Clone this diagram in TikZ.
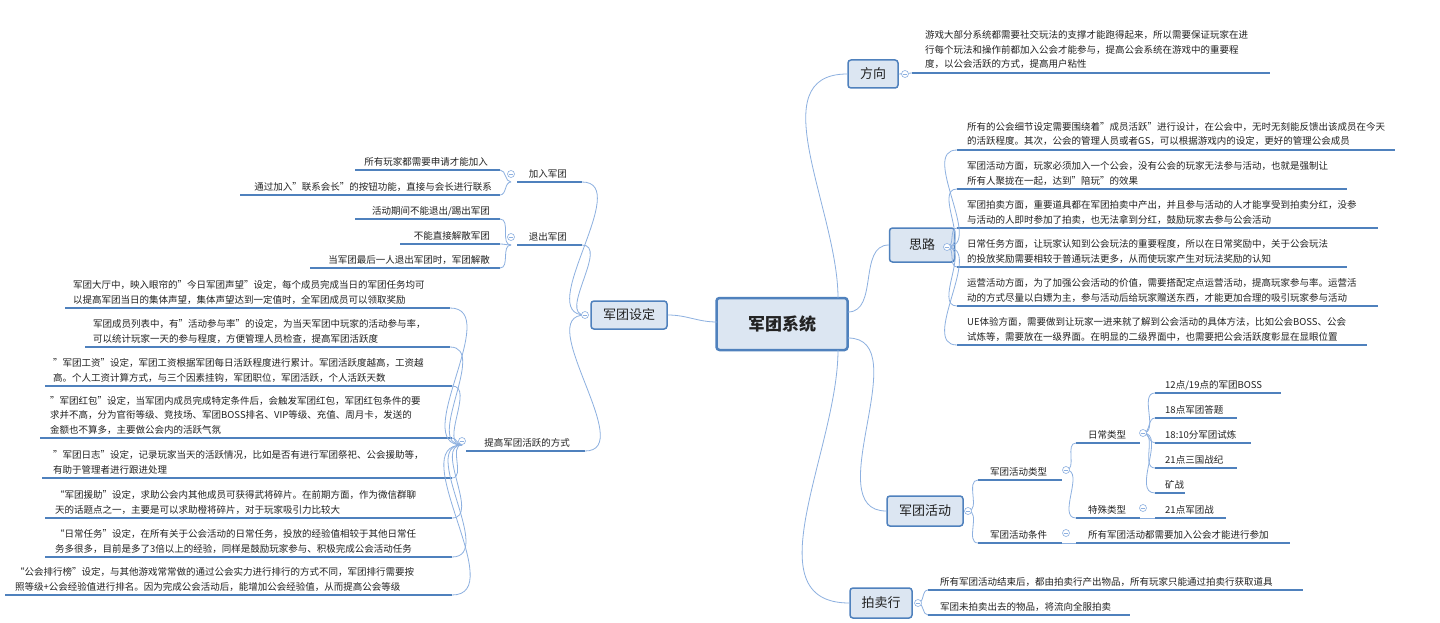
\documentclass[tikz,border=0pt]{standalone}
\usepackage{fontspec}
\setmainfont{Noto Sans CJK SC}
\definecolor{bl}{HTML}{4F81BD}
\definecolor{cl}{HTML}{8DB0E0}
\definecolor{bf}{HTML}{DCE6F2}
\definecolor{tx}{HTML}{222222}
\tikzset{
 leaf/.style={inner sep=0pt,align=left,text=tx,font=\fontsize{9.5}{14.5}\selectfont},
 uline/.style={draw=bl,line width=1.6pt},
 conn/.style={draw=cl,line width=0.8pt},
 box/.style={draw=bl,fill=bf,rounded corners=3pt,line width=1.5pt,text=tx,font=\fontsize{13}{15}\selectfont,inner sep=0pt},
 tog/.style={circle,draw=cl,fill=white,minimum size=7pt,inner sep=0pt,line width=0.6pt}
}
% name, underline left x, text x, underline y, underline right x, text
\newcommand\RL[6]{\node[leaf,anchor=base west] (#1) at (#3,#4-5) {#6};
 \coordinate (#1-a) at (#2,#4); \coordinate (#1-b) at (#5,#4); \draw[uline] (#1-a)--(#1-b);}
\newcommand\LL[6]{\node[leaf,anchor=base east] (#1) at (#3,#4-5) {#6};
 \coordinate (#1-b) at (#2,#4); \coordinate (#1-a) at (#5,#4); \draw[uline] (#1-a)--(#1-b);}
\newcommand\TG[3]{\node[tog] (#1) at (#2,#3) {}; \draw[cl,line width=0.6pt] ([xshift=-1.8pt]#1.center)--([xshift=1.8pt]#1.center);}
\begin{document}
\begin{tikzpicture}[x=1pt,y=-1pt]
\useasboundingbox[fill=white] (0,0) rectangle (1440,623);
% central and branch boxes
\node[box,line width=2.5pt,minimum width=131pt,minimum height=52pt,font=\fontsize{17}{19}\selectfont\bfseries] (c) at (782,324) {军团系统};
\node[box,minimum width=50pt,minimum height=28pt] (fx) at (873,74) {方向};
\node[box,minimum width=65pt,minimum height=34pt] (sl) at (922,245) {思路};
\node[box,minimum width=76pt,minimum height=30pt] (hd) at (925,511) {军团活动};
\node[box,minimum width=62pt,minimum height=30pt] (pm) at (881,603) {拍卖行};
\node[box,minimum width=76pt,minimum height=28pt] (sd) at (629,315) {军团设定};
\draw[conn] (838,298) to[out=90,in=180] (fx.west);
\draw[conn] (848,312) to[out=0,in=180] (sl.west);
\draw[conn] (848,338) to[out=0,in=180] (hd.west);
\draw[conn] (838,350) to[out=-90,in=180] (pm.west);
\draw[conn] (717,322) to[out=180,in=0] (sd.east);
% 方向
\RL{f1}{912}{925}{73}{1270}{游戏大部分系统都需要社交玩法的支撑才能跑得起来，所以需要保证玩家在进\\行每个玩法和操作前都加入公会才能参与，提高公会系统在游戏中的重要程\\度，以公会活跃的方式，提高用户粘性}
\draw[conn] (fx.east)--(f1-a);
\TG{tf}{905}{74}
% 思路
\RL{s1}{957}{967}{150}{1395}{所有的公会细节设定需要围绕着"成员活跃"进行设计，在公会中，无时无刻能反馈出该成员在今天\\的活跃程度。其次，公会的管理人员或者GS，可以根据游戏内的设定，更好的管理公会成员}
\RL{s2}{957}{967}{189}{1347}{军团活动方面，玩家必须加入一个公会，没有公会的玩家无法参与活动，也就是强制让\\所有人聚拢在一起，达到"陪玩"的效果}
\RL{s3}{957}{967}{228}{1378}{军团拍卖方面，重要道具都在军团拍卖中产出，并且参与活动的人才能享受到拍卖分红，没参\\与活动的人即时参加了拍卖，也无法拿到分红，鼓励玩家去参与公会活动}
\RL{s4}{957}{967}{267}{1347}{日常任务方面，让玩家认知到公会玩法的重要程度，所以在日常奖励中，关于公会玩法\\的投放奖励需要相较于普通玩法更多，从而使玩家产生对玩法奖励的认知}
\RL{s5}{957}{967}{306}{1378}{运营活动方面，为了加强公会活动的价值，需要搭配定点运营活动，提高玩家参与率。运营活\\动的方式尽量以白嫖为主，参与活动后给玩家赠送东西，才能更加合理的吸引玩家参与活动}
\RL{s6}{957}{967}{345}{1367}{UE体验方面，需要做到让玩家一进来就了解到公会活动的具体方法，比如公会BOSS、公会\\试炼等，需要放在一级界面。在明显的二级界面中，也需要把公会活跃度彰显在显眼位置}
\foreach \k in {s1,s2,s3,s4,s5,s6} \draw[conn] (947,247) to[out=0,in=180] (\k-a);
\TG{ts}{947}{247}
% 军团活动
\RL{h1}{978}{990}{480}{1062}{军团活动类型}
\RL{h2}{978}{990}{543}{1062}{军团活动条件}
\draw[conn] (968,511) to[out=0,in=180] (h1-a);
\draw[conn] (968,511) to[out=0,in=180] (h2-a);
\TG{th}{968}{511}
\RL{d1}{1076}{1088}{443}{1140}{日常类型}
\RL{d2}{1076}{1088}{518}{1140}{特殊类型}
\draw[conn] (1066,470) to[out=0,in=180] (d1-a);
\draw[conn] (1066,470) to[out=0,in=180] (d2-a);
\TG{th1}{1066}{470}
\RL{c1}{1076}{1088}{543}{1290}{所有军团活动都需要加入公会才能进行参加}
\draw[conn] (h2-b)--(c1-a);
\TG{th2}{1066}{533}
\RL{r1}{1155}{1165}{393}{1281}{12点/19点的军团BOSS}
\RL{r2}{1155}{1165}{418}{1237}{18点军团答题}
\RL{r3}{1155}{1165}{443}{1251}{18:10分军团试炼}
\RL{r4}{1155}{1165}{468}{1237}{21点三国战纪}
\RL{r5}{1155}{1165}{493}{1185}{矿战}
\foreach \k in {r1,r2,r3,r4,r5} \draw[conn] (1143,433) to[out=0,in=180] (\k-a);
\TG{td1}{1143}{433}
\RL{r6}{1155}{1165}{518}{1226}{21点军团战}
\draw[conn] (d2-b)--(r6-a);
\TG{td2}{1143}{508}
% 拍卖行
\RL{p1}{928}{940}{590}{1303}{所有军团活动结束后，都由拍卖行产出物品，所有玩家只能通过拍卖行获取道具}
\RL{p2}{928}{940}{615}{1130}{军团未拍卖出去的物品，将流向全服拍卖}
\draw[conn] (918,603) to[out=0,in=180] (p1-a);
\draw[conn] (918,603) to[out=0,in=180] (p2-a);
\TG{tp}{918}{603}
% 军团设定 left
\LL{g1}{517}{567}{182}{582}{加入军团}
\LL{g2}{517}{567}{245}{582}{退出军团}
\LL{g3}{466}{570}{451}{585}{提高军团活跃的方式}
\foreach \k in {g1,g2,g3} \draw[conn] (585,315) to[out=180,in=0] (\k-a);
\TG{tsd}{585}{315}
\LL{j1}{355}{488}{170}{500}{所有玩家都需要申请才能加入}
\LL{j2}{240}{492}{195}{500}{通过加入"联系会长"的按钮功能，直接与会长进行联系}
\foreach \k in {j1,j2} \draw[conn] (511,182) to[out=180,in=0] (\k-a);
\TG{tj}{511}{174}
\LL{q1}{355}{490}{219}{500}{活动期间不能退出/踢出军团}
\LL{q2}{400}{490}{244}{500}{不能直接解散军团}
\LL{q3}{310}{490}{268}{500}{当军团最后一人退出军团时，军团解散}
\foreach \k in {q1,q2,q3} \draw[conn] (511,245) to[out=180,in=0] (\k-a);
\TG{tq}{511}{237}
\RL{k1}{65}{73}{308}{450}{军团大厅中，映入眼帘的"今日军团声望"设定，每个成员完成当日的军团任务均可\\以提高军团当日的集体声望，集体声望达到一定值时，全军团成员可以领取奖励}
\RL{k2}{85}{93}{347}{450}{军团成员列表中，有"活动参与率"的设定，为当天军团中玩家的活动参与率，\\可以统计玩家一天的参与程度，方便管理人员检查，提高军团活跃度}
\RL{k3}{45}{53}{386}{452}{"军团工资"设定，军团工资根据军团每日活跃程度进行累计。军团活跃度越高，工资越\\高。个人工资计算方式，与三个因素挂钩，军团职位，军团活跃，个人活跃天数}
\RL{k4}{40}{50}{438}{452}{"军团红包"设定，当军团内成员完成特定条件后，会触发军团红包，军团红包条件的要\\求并不高，分为官衔等级、竞技场、军团BOSS排名、VIP等级、充值、周月卡，发送的\\金额也不算多，主要做公会内的活跃气氛}
\RL{k5}{42}{53}{478}{452}{"军团日志"设定，记录玩家当天的活跃情况，比如是否有进行军团祭祀、公会援助等，\\有助于管理者进行跟进处理}
\RL{k6}{45}{55}{518}{452}{“军团援助”设定，求助公会内其他成员可获得武将碎片。在前期方面，作为微信群聊\\天的话题点之一，主要是可以求助橙将碎片，对于玩家吸引力比较大}
\RL{k7}{45}{55}{557}{452}{“日常任务”设定，在所有关于公会活动的日常任务，投放的经验值相较于其他日常任\\务多很多，目前是多了3倍以上的经验，同样是鼓励玩家参与、积极完成公会活动任务}
\RL{k8}{5}{15}{595}{452}{“公会排行榜”设定，与其他游戏常常做的通过公会实力进行排行的方式不同，军团排行需要按\\照等级+公会经验值进行排名。因为完成公会活动后，能增加公会经验值，从而提高公会等级}
\foreach \k in {k1,k2,k3,k4,k5,k6,k7,k8} \draw[conn] (462,445) to[out=180,in=0] (\k-b);
\TG{tk}{462}{441}
\end{tikzpicture}
\end{document}
